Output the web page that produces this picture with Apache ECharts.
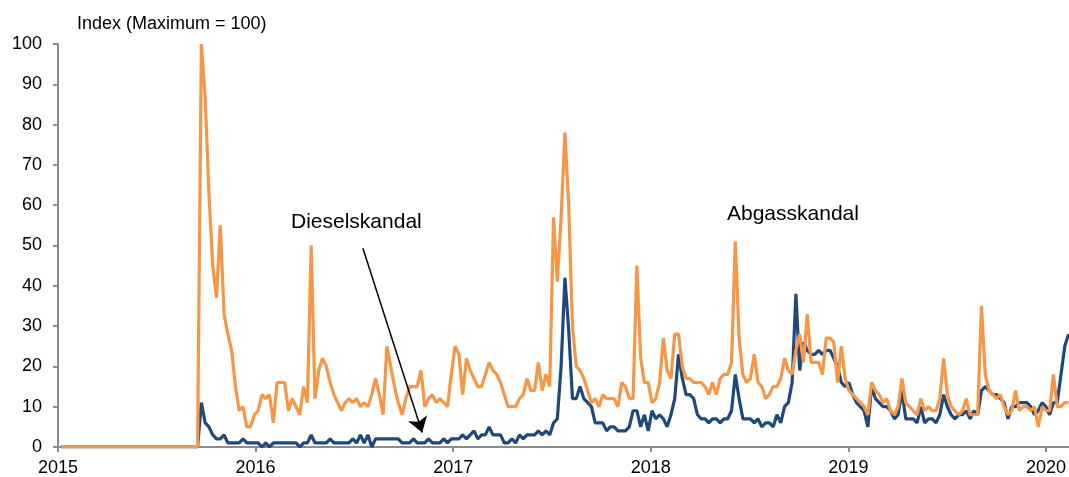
<!DOCTYPE html>
<html>
<head>
<meta charset="utf-8">
<script src="https://cdn.jsdelivr.net/npm/echarts@6/dist/echarts.min.js"></script>
<style>
  html, body { margin: 0; padding: 0; background: #fff; }
  #main { width: 1069px; height: 477px; }
</style>
</head>
<body>
<div id="main"></div>
<script>
  // Wöchentliche Werte, erste Woche beginnt am 07.01.2015
  const weekStart = '2015-01-07'

  // Abgasskandal (orange)
  const abgasskandal = [
    0, 0, 0, 0, 0, 0, 0, 0, 0, 0, 0, 0, 0, 0, 0, 0, 0, 0, 0, 0,
    0, 0, 0, 0, 0, 0, 0, 0, 0, 0, 0, 0, 0, 0, 0, 0, 0,
    100, 87, 63, 45, 37, 55, 33, 28, 24, 15, 9, 10, 5,
    5, 8, 9, 13, 12, 13, 6, 16, 16, 16,
    9, 12, 10, 8, 15, 11, 50, 12, 19, 22,
    20, 16, 13, 11, 9, 11, 12, 11, 12, 10,
    11, 10, 13, 17, 13, 8, 25, 20, 15, 11,
    8, 12, 15, 15, 15, 19, 10, 12, 13, 11,
    12, 11, 10, 18, 25, 23, 13, 22, 19, 17,
    15, 15, 18, 21, 19, 18, 16, 13, 10, 10,
    10, 12, 13, 17, 14, 14, 21, 14, 18, 15,
    57, 41, 57, 78, 60, 30, 20, 19, 17, 14,
    11, 12, 10, 13, 12, 12, 12, 10, 16, 15,
    12, 12, 45, 22, 16, 16, 11, 12, 16, 27,
    19, 17, 28, 28, 20, 17, 17, 16, 16, 16,
    15, 13, 16, 13, 17, 18, 18, 21, 51, 27,
    18, 16, 17, 23, 16, 15, 12, 13, 15, 15,
    17, 22, 19, 18, 24, 28, 21, 33, 21, 21,
    21, 18, 27, 27, 26, 16, 25, 17, 14, 13,
    12, 11, 10, 8, 16, 14, 13, 11, 12, 9,
    8, 10, 17, 11, 10, 9, 8, 12, 9, 10,
    9, 9, 12, 22, 13, 10, 9, 8, 9, 12,
    8, 8, 8, 35, 18, 14, 13, 12, 13, 10,
    8, 9, 14, 9, 10, 10, 9, 10, 5, 10,
    9, 9, 18, 10, 10, 11, 11
  ]

  // Dieselskandal (blau)
  const dieselskandal = [
    0, 0, 0, 0, 0, 0, 0, 0, 0, 0, 0, 0, 0, 0, 0, 0, 0, 0, 0, 0,
    0, 0, 0, 0, 0, 0, 0, 0, 0, 0, 0, 0, 0, 0, 0, 0, 0,
    11, 6, 5, 3, 2, 2, 3, 1, 1, 1, 1, 2, 1,
    1, 1, 1, 0, 1, 0, 1, 1, 1, 1,
    1, 1, 1, 0, 1, 1, 3, 1, 1, 1,
    1, 2, 1, 1, 1, 1, 1, 2, 1, 3,
    1, 3, 0, 2, 2, 2, 2, 2, 2, 2,
    1, 1, 1, 2, 1, 1, 1, 2, 1, 1,
    1, 2, 1, 2, 2, 2, 3, 2, 3, 4,
    2, 3, 3, 5, 3, 3, 3, 1, 1, 2,
    1, 3, 2, 3, 3, 3, 4, 3, 4, 3,
    6, 7, 20, 42, 29, 12, 12, 15, 12, 11,
    10, 6, 6, 6, 4, 5, 5, 4, 4, 4,
    5, 9, 9, 5, 8, 4, 9, 7, 8, 7,
    5, 8, 12, 23, 17, 13, 13, 12, 8, 7,
    7, 6, 7, 7, 6, 7, 7, 9, 18, 12,
    7, 7, 7, 6, 7, 5, 6, 6, 5, 8,
    6, 10, 11, 16, 38, 19, 26, 24, 23, 23,
    24, 23, 24, 24, 22, 20, 16, 15, 16, 13,
    11, 10, 9, 5, 15, 12, 11, 10, 10, 9,
    7, 8, 14, 7, 7, 7, 6, 10, 6, 7,
    7, 6, 8, 13, 10, 8, 7, 8, 8, 9,
    7, 9, 8, 14, 15, 14, 13, 13, 12, 11,
    7, 10, 10, 11, 11, 11, 10, 8, 9, 11,
    10, 8, 11, 11, 18, 25, 28
  ]

  const yTicks = [0, 10, 20, 30, 40, 50, 60, 70, 80, 90, 100]
  const xYears = [2015, 2016, 2017, 2018, 2019, 2020]

  // Pfeil zu "Dieselskandal" (Jahr als Dezimalzahl, Indexwert)
  const arrowFrom = [2016.543, 49.3]
  const arrowTo = [2016.843, 3.6]

  // Woche -> Jahr als Dezimalzahl
  const t0 = Date.parse(weekStart + 'T00:00:00Z')
  const y0 = Date.UTC(2015, 0, 1)
  const toYear = i => 2015 + (t0 + i * 7 * 864e5 - y0) / (365.25 * 864e5)

  const blueData = dieselskandal.map((v, i) => [toYear(i), v])
  const orangeData = abgasskandal.map((v, i) => [toYear(i), v])

  const font = "'Liberation Sans', Arial, sans-serif"

  const chart = echarts.init(document.getElementById('main'))
  chart.setOption({
    animation: false,
    grid: { left: 58, right: 0, top: 44, bottom: 27, containLabel: false },
    xAxis: {
      type: 'value',
      min: xYears[0],
      max: 2020.114,
      interval: 1,
      axisLine: { lineStyle: { color: '#8c8c8c', width: 2 } },
      axisTick: { show: true, length: 5, lineStyle: { color: '#8c8c8c', width: 2 } },
      splitLine: { show: false },
      axisLabel: {
        margin: 12,
        color: '#000',
        fontSize: 18,
        fontFamily: font,
        showMaxLabel: false,
        formatter: v => (xYears.indexOf(v) >= 0 ? String(v) : '')
      }
    },
    yAxis: {
      type: 'value',
      min: yTicks[0],
      max: yTicks[yTicks.length - 1],
      interval: 10,
      axisLine: { show: true, lineStyle: { color: '#8c8c8c', width: 2 } },
      axisTick: { show: true, length: 5, lineStyle: { color: '#8c8c8c', width: 2 } },
      splitLine: { show: false },
      axisLabel: { margin: 16, color: '#000', fontSize: 18, fontFamily: font }
    },
    series: [
      {
        name: 'Dieselskandal',
        type: 'line',
        data: blueData,
        showSymbol: false,
        symbol: 'none',
        lineStyle: { color: '#1f497d', width: 3.2 },
        z: 2,
        markLine: {
          silent: true,
          symbol: ['none', 'arrow'],
          symbolSize: 15,
          label: { show: false },
          emphasis: { disabled: true },
          itemStyle: { color: '#000' },
          lineStyle: { color: '#000', width: 1.5, type: 'solid' },
          data: [[{ coord: arrowFrom }, { coord: arrowTo }]]
        }
      },
      {
        name: 'Abgasskandal',
        type: 'line',
        data: orangeData,
        showSymbol: false,
        symbol: 'none',
        lineStyle: { color: '#f79646', width: 3.2 },
        z: 3
      }
    ],
    graphic: [
      {
        type: 'text', left: 77, top: 15,
        style: { text: 'Index (Maximum = 100)', fill: '#000', font: '18px ' + font }
      },
      {
        type: 'text', left: 291, top: 212,
        style: { text: 'Dieselskandal', fill: '#000', font: '21px ' + font }
      },
      {
        type: 'text', left: 727, top: 204,
        style: { text: 'Abgasskandal', fill: '#000', font: '21px ' + font }
      }
    ]
  })
</script>
</body>
</html>
